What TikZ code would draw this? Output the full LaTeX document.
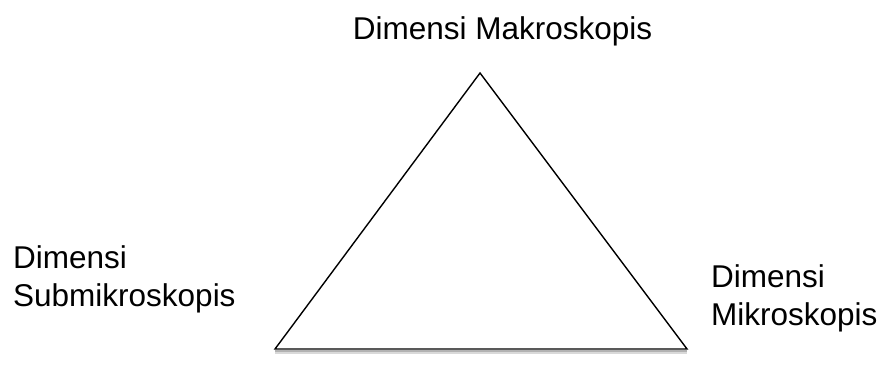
\documentclass[tikz,border=0pt]{standalone}
\usepackage{fontspec}
\setmainfont{Liberation Sans}
\begin{document}
\begin{tikzpicture}[x=1pt,y=-1pt,
  lbl/.style={font=\fontsize{31.5}{38}\selectfont, inner sep=0pt, align=left},
  edge/.style={line width=1.4pt, black, line join=miter}]
\useasboundingbox (0,0) rectangle (879,369);
\coordinate (apex) at (480,73);
\coordinate (bl) at (275,349);
\coordinate (br) at (687,349);
\draw[gray!60, line width=2pt] ([yshift=-2pt]bl) -- ([yshift=-2pt]br);
\draw[gray!30, line width=2pt] ([yshift=-4pt]bl) -- ([yshift=-4pt]br);
\draw[edge] (bl) -- (apex) -- (br) -- cycle;
\node[lbl, anchor=base] (top) at (502.5,40) {Dimensi Makroskopis};
\node[lbl, anchor=base west] (left) at (13,306) {Dimensi\\Submikroskopis};
\node[lbl, anchor=base west] (right) at (711,325) {Dimensi\\Mikroskopis};
\end{tikzpicture}
\end{document}
